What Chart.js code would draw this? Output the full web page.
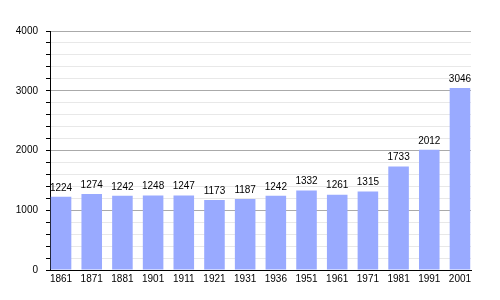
<!DOCTYPE html>
<html>
<head>
<meta charset="utf-8">
<script src="https://cdn.jsdelivr.net/npm/chart.js@4.4.0/dist/chart.umd.min.js"></script>
<style>
  body { margin: 0; background: #fff; }
  #wrap { width: 500px; height: 300px; }
</style>
</head>
<body>
<div id="wrap"><canvas id="bar-chart"></canvas></div>
<script>
var years = ["1861", "1871", "1881", "1901", "1911", "1921", "1931", "1936", "1951", "1961", "1971", "1981", "1991", "2001"];
var population = [1224, 1274, 1242, 1248, 1247, 1173, 1187, 1242, 1332, 1261, 1315, 1733, 2012, 3046];
var yTicks = [0, 1000, 2000, 3000, 4000];

// labels above the bars
var valueLabels = {
  id: 'valueLabels',
  afterDatasetsDraw: function (chart) {
    var ctx = chart.ctx;
    var meta = chart.getDatasetMeta(0);
    ctx.save();
    ctx.font = '10px "Liberation Sans", Arial, sans-serif';
    ctx.fillStyle = '#000';
    ctx.textAlign = 'center';
    ctx.textBaseline = 'bottom';
    meta.data.forEach(function (bar, i) {
      ctx.fillText(population[i], bar.x, bar.y - 4);
    });
    ctx.restore();
  }
};

new Chart(document.getElementById("bar-chart"), {
  type: 'bar',
  data: {
    labels: years,
    datasets: [
      {
        data: population,
        backgroundColor: '#99aaff',
        barPercentage: 0.67,
        categoryPercentage: 1
      }
    ]
  },
  options: {
    responsive: true,
    maintainAspectRatio: false,
    animation: false,
    layout: { padding: { top: 31, right: 29, bottom: 8, left: 0 } },
    plugins: {
      legend: { display: false },
      tooltip: { enabled: false }
    },
    scales: {
      x: {
        offset: true,
        grid: { display: false, drawTicks: false, tickLength: 0 },
        border: { display: true, color: '#000', width: 1 },
        ticks: {
          color: '#000',
          padding: 3,
          maxRotation: 0,
          autoSkip: false,
          font: { family: '"Liberation Sans", Arial, sans-serif', size: 10 }
        },
        // bars sit a little to the left of the plot, more room at the right
        afterBuildTicks: function (scale) {
          scale._startValue = -0.36;
          scale._valueRange = years.length - 1 + 0.72;
        },
        afterFit: function (scale) { scale.height = 22; }
      },
      y: {
        min: 0,
        max: 4000,
        border: { display: true, color: '#000', width: 1 },
        grid: {
          color: function (c) {
            return yTicks.indexOf(c.tick.value) >= 0 ? '#aaaaaa' : '#e8e8e8';
          },
          tickColor: '#000',
          tickLength: 4
        },
        ticks: {
          stepSize: 200,
          color: '#000',
          padding: 8,
          autoSkip: false,
          font: { family: '"Liberation Sans", Arial, sans-serif', size: 10 },
          callback: function (v) {
            return yTicks.indexOf(v) >= 0 ? v : '';
          }
        },
        afterFit: function (scale) { scale.width = 50; }
      }
    }
  },
  plugins: [valueLabels]
});
</script>
</body>
</html>
